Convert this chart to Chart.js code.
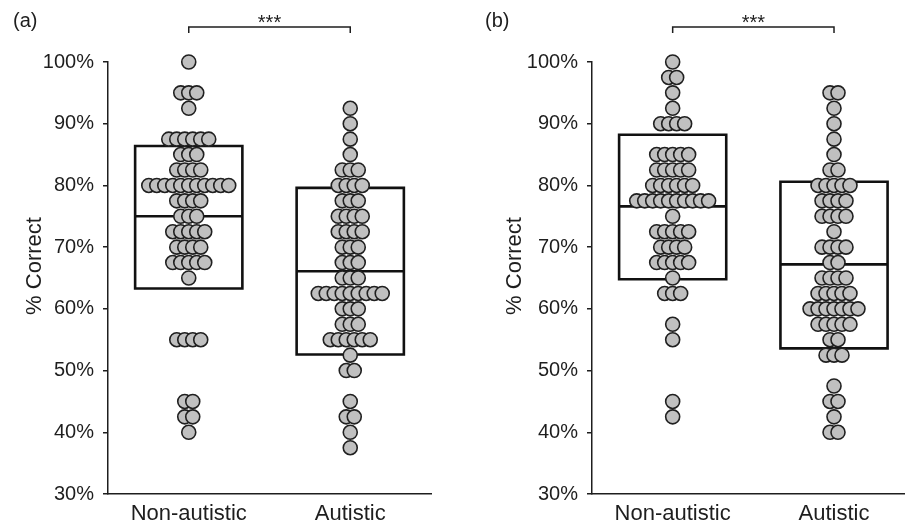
<!DOCTYPE html>
<html>
<head>
<meta charset="utf-8">
<script src="https://cdn.jsdelivr.net/npm/chart.js@4/dist/chart.umd.min.js"></script>
<style>
  html, body { margin: 0; padding: 0; background: #ffffff; }
  #wrap { position: relative; width: 905px; height: 522px; overflow: hidden; }
  #ca { position: absolute; left: 0; top: 0; }
  #cb { position: absolute; left: 452px; top: 0; }
</style>
</head>
<body>
<div id="wrap">
  <canvas id="ca" width="452" height="522"></canvas>
  <canvas id="cb" width="453" height="522"></canvas>
</div>
<script>
// ---------- data ----------
const categories = ['Non-autistic', 'Autistic'];
const yTickMin = 30, yTickMax = 100, yTickStep = 10;
const yTitle = '% Correct';
const panelLabels = ['(a)', '(b)'];
const sigLabel = '***';

// rows: [score in %, number of participants with that score]
const nonAutisticA = [[100,1],[95,3],[92.5,1],[87.5,6],[85,3],[82.5,4],[80,11],[77.5,4],[75,3],[72.5,5],[70,4],[67.5,5],[65,1],[55,4],[45,2],[42.5,2],[40,1]];
const autisticA    = [[92.5,1],[90,1],[87.5,1],[85,1],[82.5,3],[80,4],[77.5,3],[75,4],[72.5,4],[70,3],[67.5,3],[65,3],[62.5,9],[60,3],[57.5,3],[55,6],[52.5,1],[50,2],[45,1],[42.5,2],[40,1],[37.5,1]];
const nonAutisticB = [[100,1],[97.5,2],[95,1],[92.5,1],[90,4],[85,5],[82.5,5],[80,6],[77.5,10],[75,1],[72.5,5],[70,4],[67.5,5],[65,1],[62.5,3],[57.5,1],[55,1],[45,1],[42.5,1]];
const autisticB    = [[95,2],[92.5,1],[90,1],[87.5,1],[85,1],[82.5,2],[80,5],[77.5,4],[75,4],[72.5,1],[70,4],[67.5,2],[65,4],[62.5,5],[60,7],[57.5,5],[55,2],[52.5,3],[47.5,1],[45,2],[42.5,1],[40,2]];

// box: lower edge, middle line, upper edge (per category)
const boxLowA  = [63.3, 52.6];
const boxMidA  = [75.0, 66.1];
const boxHighA = [86.4, 79.6];
const boxLowB  = [64.8, 53.6];
const boxMidB  = [76.6, 67.2];
const boxHighB = [88.2, 80.6];

// ---------- layout / style ----------
const FONT = '"Liberation Sans", Arial, Helvetica, sans-serif';
const INK = '#1e1e1e';
const DOT_STEP = 0.0495;   // horizontal spacing of swarm dots, x-units
const BOX_HALF = 0.332;    // half width of box, x-units

function swarm(rows, center) {
  const pts = [];
  rows.forEach(([v, n]) => {
    for (let i = 0; i < n; i++) {
      pts.push({ x: center + (i - (n - 1) / 2) * DOT_STEP, y: v });
    }
  });
  return pts;
}
function boxPath(c, lo, hi) {
  return [{x:c,y:lo},{x:c+BOX_HALF,y:lo},{x:c+BOX_HALF,y:hi},{x:c-BOX_HALF,y:hi},{x:c-BOX_HALF,y:lo},{x:c,y:lo}];
}
function midPath(c, m) {
  return [{x:c-BOX_HALF,y:m},{x:c+BOX_HALF,y:m}];
}

const decoPlugin = {
  id: 'deco',
  afterDraw(chart, args, o) {
    const ctx = chart.ctx;
    const xs = chart.scales.x;
    ctx.save();
    ctx.fillStyle = INK;
    ctx.strokeStyle = INK;
    // panel label
    ctx.font = '20px ' + FONT;
    ctx.textAlign = 'left';
    ctx.textBaseline = 'middle';
    ctx.fillText(o.label, o.labelX, 21);
    // significance bracket
    const x1 = xs.getPixelForValue(0.5), x2 = xs.getPixelForValue(1.5);
    ctx.lineWidth = 1.5;
    ctx.beginPath();
    ctx.moveTo(x1, 33); ctx.lineTo(x1, 27); ctx.lineTo(x2, 27); ctx.lineTo(x2, 33);
    ctx.stroke();
    ctx.textAlign = 'center';
    ctx.textBaseline = 'alphabetic';
    ctx.font = '20px ' + FONT;
    ctx.fillText(sigLabel, (x1 + x2) / 2, 29);
    // y title
    ctx.translate(o.titleX, 266);
    ctx.rotate(-Math.PI / 2);
    ctx.font = '22px ' + FONT;
    ctx.textAlign = 'center';
    ctx.textBaseline = 'middle';
    ctx.fillText(yTitle, 0, 0);
    ctx.restore();
  }
};

function makeChart(id, groups, lows, mids, highs, cfg) {
  const datasets = [];
  groups.forEach((rows, ci) => {
    const c = ci + 0.5;
    datasets.push({
      data: swarm(rows, c), order: 0, clip: false, showLine: false,
      pointRadius: 7, pointHoverRadius: 7,
      pointBackgroundColor: '#c0c0c0', pointBorderColor: '#202020', pointBorderWidth: 1.6
    });
    datasets.push({
      data: boxPath(c, lows[ci], highs[ci]), order: 1, clip: false, showLine: true,
      borderColor: '#111', borderWidth: 2.6, pointRadius: 0, fill: false, tension: 0,
      borderJoinStyle: 'miter'
    });
    datasets.push({
      data: midPath(c, mids[ci]), order: 1, clip: false, showLine: true,
      borderColor: '#111', borderWidth: 2.6, pointRadius: 0, fill: false, tension: 0
    });
  });
  return new Chart(document.getElementById(id), {
    type: 'scatter',
    data: { datasets },
    plugins: [decoPlugin],
    options: {
      responsive: false, animation: false, devicePixelRatio: 1,
      layout: { autoPadding: false, padding: { left: 0, right: cfg.padRight, top: 62, bottom: 0 } },
      plugins: {
        legend: { display: false }, tooltip: { enabled: false },
        deco: { label: cfg.label, labelX: cfg.labelX, titleX: cfg.titleX }
      },
      scales: {
        x: {
          type: 'linear', min: 0, max: cfg.xMax,
          afterBuildTicks: s => { s.ticks = [{ value: 0.5 }, { value: 1.5 }]; },
          afterFit: s => { s.height = 28; },
          grid: { display: false },
          border: { display: true, color: INK, width: 1.5 },
          ticks: {
            autoSkip: false, maxRotation: 0, padding: -1, color: INK,
            font: { family: FONT, size: 22 },
            callback: (v, i) => categories[i]
          }
        },
        y: {
          type: 'linear', min: yTickMin, max: yTickMax,
          afterFit: s => { s.width = cfg.yWidth; },
          grid: { drawOnChartArea: false, drawTicks: true, tickLength: 5, color: INK, lineWidth: 1.5 },
          border: { display: true, color: INK, width: 1.5 },
          ticks: {
            stepSize: yTickStep, padding: 9, color: INK,
            font: { family: FONT, size: 20 },
            callback: v => v + '%'
          }
        }
      }
    }
  });
}

makeChart('ca', [nonAutisticA, autisticA], boxLowA, boxMidA, boxHighA,
  { padRight: 21, xMax: 2, yWidth: 108, label: panelLabels[0], labelX: 13, titleX: 35 });
makeChart('cb', [nonAutisticB, autisticB], boxLowB, boxMidB, boxHighB,
  { padRight: 0, xMax: 1.94, yWidth: 140, label: panelLabels[1], labelX: 33, titleX: 63 });
</script>
</body>
</html>
